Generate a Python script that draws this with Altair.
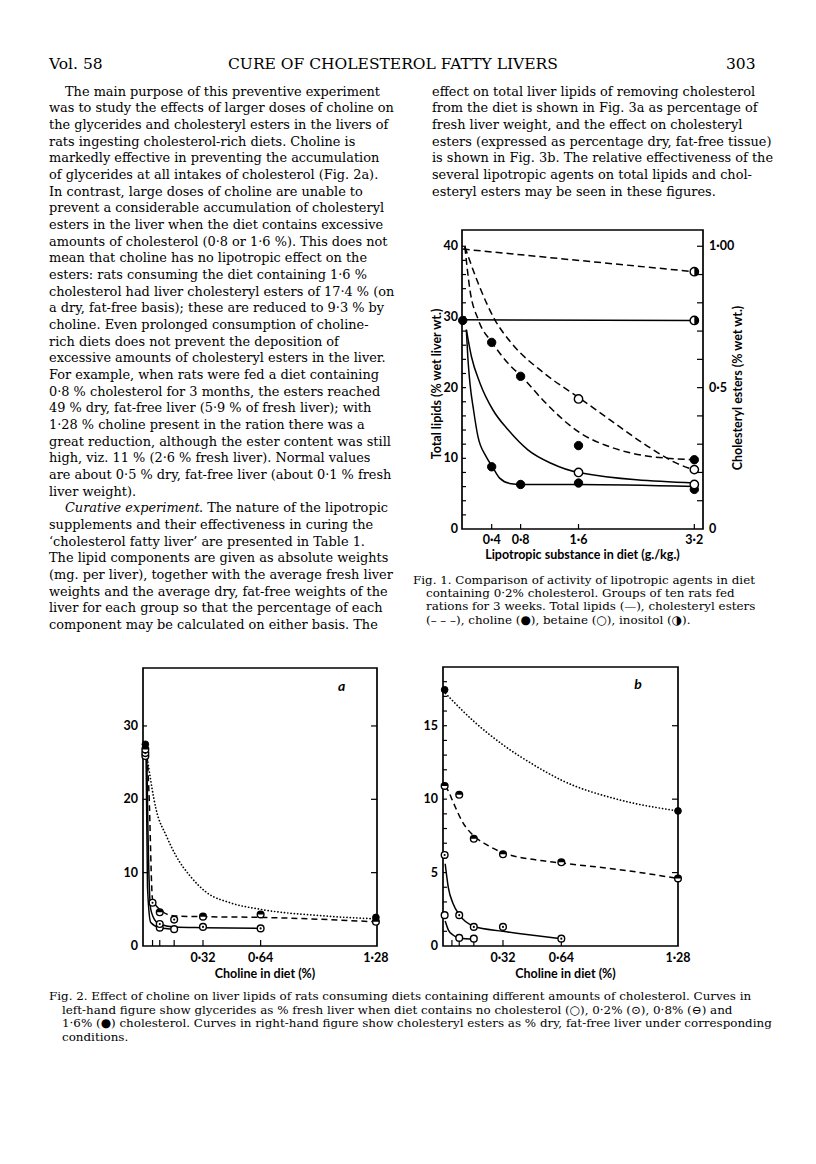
import altair as alt
import pandas as pd

# ============================ page text ============================
HEADER_TEXT = ["Vol. 58", "CURE OF CHOLESTEROL FATTY LIVERS", "303"]

LEFT_LINES = [
    "The main purpose of this preventive experiment",
    "was to study the effects of larger doses of choline on",
    "the glycerides and cholesteryl esters in the livers of",
    "rats ingesting cholesterol-rich diets. Choline is",
    "markedly effective in preventing the accumulation",
    "of glycerides at all intakes of cholesterol (Fig. 2a).",
    "In contrast, large doses of choline are unable to",
    "prevent a considerable accumulation of cholesteryl",
    "esters in the liver when the diet contains excessive",
    "amounts of cholesterol (0·8 or 1·6 %). This does not",
    "mean that choline has no lipotropic effect on the",
    "esters: rats consuming the diet containing 1·6 %",
    "cholesterol had liver cholesteryl esters of 17·4 % (on",
    "a dry, fat-free basis); these are reduced to 9·3 % by",
    "choline. Even prolonged consumption of choline-",
    "rich diets does not prevent the deposition of",
    "excessive amounts of cholesteryl esters in the liver.",
    "For example, when rats were fed a diet containing",
    "0·8 % cholesterol for 3 months, the esters reached",
    "49 % dry, fat-free liver (5·9 % of fresh liver); with",
    "1·28 % choline present in the ration there was a",
    "great reduction, although the ester content was still",
    "high, viz. 11 % (2·6 % fresh liver). Normal values",
    "are about 0·5 % dry, fat-free liver (about 0·1 % fresh",
    "liver weight).",
    ". The nature of the lipotropic",
    "supplements and their effectiveness in curing the",
    "\u2018cholesterol fatty liver\u2019 are presented in Table 1.",
    "The lipid components are given as absolute weights",
    "(mg. per liver), together with the average fresh liver",
    "weights and the average dry, fat-free weights of the",
    "liver for each group so that the percentage of each",
    "component may be calculated on either basis. The",
]
ITALIC_LEAD = "Curative experiment"

RIGHT_LINES = [
    "effect on total liver lipids of removing cholesterol",
    "from the diet is shown in Fig. 3a as percentage of",
    "fresh liver weight, and the effect on cholesteryl",
    "esters (expressed as percentage dry, fat-free tissue)",
    "is shown in Fig. 3b. The relative effectiveness of the",
    "several lipotropic agents on total lipids and chol-",
    "esteryl esters may be seen in these figures.",
]

FIG1_CAPTION = [
    "Fig. 1. Comparison of activity of lipotropic agents in diet",
    "containing 0·2% cholesterol. Groups of ten rats fed",
    "rations for 3 weeks. Total lipids (\u2014), cholesteryl esters",
    "(\u2013 \u2013 \u2013), choline (\u25cf), betaine (\u25cb), inositol (\u25d1).",
]

FIG2_CAPTION = [
    "Fig. 2. Effect of choline on liver lipids of rats consuming diets containing different amounts of cholesterol. Curves in",
    "left-hand figure show glycerides as % fresh liver when diet contains no cholesterol (\u25cb), 0·2% (\u2299), 0·8% (\u2296) and",
    "1·6% (\u25cf) cholesterol. Curves in right-hand figure show cholesteryl esters as % dry, fat-free liver under corresponding",
    "conditions.",
]

# ============================ Fig. 1 data ============================
F1_XTICKS = [0.4, 0.8, 1.6, 3.2]
F1_XTICK_LABELS = ["0·4", "0·8", "1·6", "3·2"]
F1_YTICKS = [0, 10, 20, 30, 40]
F1_YTICK_LABELS = ["0", "10", "20", "30", "40"]
F1_RIGHT_TICK_VALUES = [0, 20, 40]
F1_RIGHT_TICK_LABELS = ["0", "0·5", "1·00"]
F1_XTITLE = "Lipotropic substance in diet (g./kg.)"
F1_YTITLE = "Total lipids (% wet liver wt.)"
F1_Y2TITLE = "Cholesteryl esters (% wet wt.)"

# total lipids (% wet liver wt.)
F1_LIP_CONTROL_X = [0.0]
F1_LIP_CONTROL_Y = [29.5]
F1_LIP_CHOLINE_X = [0.4, 0.8, 1.6, 3.2]
F1_LIP_CHOLINE_Y = [8.8, 6.3, 6.5, 5.6]
F1_LIP_BETAINE_X = [1.6, 3.2]
F1_LIP_BETAINE_Y = [8.0, 6.3]
F1_LIP_INOSITOL_X = [3.2]
F1_LIP_INOSITOL_Y = [29.5]
# cholesteryl esters (% wet wt.)
F1_EST_CHOLINE_X = [0.4, 0.8, 1.6, 3.2]
F1_EST_CHOLINE_Y = [0.66, 0.54, 0.295, 0.245]
F1_EST_BETAINE_X = [1.6, 3.2]
F1_EST_BETAINE_Y = [0.46, 0.21]
F1_EST_INOSITOL_X = [3.2]
F1_EST_INOSITOL_Y = [0.91]

# drawn curves
F1C_LIP_CHOLINE_X = [0.05, 0.07, 0.1, 0.15, 0.21, 0.32, 0.41, 0.51, 0.67, 0.8, 1.6, 3.2]
F1C_LIP_CHOLINE_Y = [28.2, 24.4, 20.6, 16.8, 13.1, 10.3, 8.8, 7.2, 6.4, 6.3, 6.3, 6.0]
F1C_LIP_BETAINE_X = [0.05, 0.12, 0.24, 0.42, 0.63, 0.9, 1.22, 1.6, 3.2]
F1C_LIP_BETAINE_Y = [28.2, 24.4, 20.6, 16.8, 14.0, 11.2, 9.3, 8.0, 6.5]
F1C_LIP_INOSITOL_X = [0.0, 3.2]
F1C_LIP_INOSITOL_Y = [29.6, 29.5]
F1C_EST_INOSITOL_X = [0.0, 3.2]
F1C_EST_INOSITOL_Y = [0.99, 0.91]
F1C_EST_BETAINE_X = [0.03, 0.215, 0.444, 0.672, 1.13, 1.62, 2.04, 2.5, 2.96, 3.21]
F1C_EST_BETAINE_Y = [0.998, 0.868, 0.74, 0.658, 0.55, 0.462, 0.385, 0.302, 0.232, 0.208]
F1C_EST_CHOLINE_X = [0.03, 0.1, 0.215, 0.41, 0.63, 0.82, 1.13, 1.62, 2.04, 2.5, 3.21]
F1C_EST_CHOLINE_Y = [0.998, 0.845, 0.74, 0.658, 0.585, 0.538, 0.45, 0.34, 0.29, 0.26, 0.245]

# ============================ Fig. 2a data (glycerides, % fresh liver) ============================
F2_XTICKS = [0.04, 0.08, 0.16, 0.32, 0.64]
F2_XLABEL_VALUES = [0.32, 0.64, 1.28]
F2_XLABELS = ["0·32", "0·64", "1·28"]
F2_XTITLE = "Choline in diet (%)"
F2A_YTICKS = [0, 10, 20, 30]
F2A_YLABELS = ["0", "10", "20", "30"]

F2A_C16_X = [0.0, 1.28]
F2A_C16_Y = [27.5, 3.9]
F2A_C08_X = [0.0, 0.08, 0.32, 0.64, 1.28]
F2A_C08_Y = [26.8, 4.6, 4.0, 4.3, 3.3]
F2A_C02_X = [0.0, 0.04, 0.08, 0.16, 0.32, 0.64]
F2A_C02_Y = [26.3, 5.9, 3.0, 3.6, 2.6, 2.4]
F2A_C00_X = [0.0, 0.08, 0.16]
F2A_C00_Y = [25.9, 2.5, 2.3]

F2AC_C16_X = [0.006, 0.06, 0.117, 0.17, 0.25, 0.34, 0.47, 0.64, 0.99, 1.28]
F2AC_C16_Y = [26.4, 18.6, 15.0, 12.3, 9.5, 7.3, 5.9, 5.0, 4.1, 3.7]
F2AC_C08_X = [0.01, 0.02, 0.04, 0.09, 0.16, 0.32, 0.64, 1.28]
F2AC_C08_Y = [26.0, 21.0, 6.4, 4.8, 4.1, 4.0, 3.9, 3.3]
F2AC_C02_X = [0.008, 0.015, 0.03, 0.06, 0.08, 0.16, 0.32, 0.64]
F2AC_C02_Y = [26.0, 15.0, 5.0, 3.3, 3.0, 2.6, 2.5, 2.4]
F2AC_C00_X = [0.004, 0.012, 0.03, 0.08, 0.16]
F2AC_C00_Y = [26.0, 8.0, 3.2, 2.5, 2.3]

# ============================ Fig. 2b data (cholesteryl esters, % dry fat-free liver) ============================
F2B_YTICKS = [0, 5, 10, 15]
F2B_YLABELS = ["0", "5", "10", "15"]

F2B_C16_X = [0.0, 1.28]
F2B_C16_Y = [17.45, 9.2]
F2B_C08_X = [0.0, 0.08, 0.16, 0.32, 0.64, 1.28]
F2B_C08_Y = [10.9, 10.3, 7.3, 6.25, 5.7, 4.6]
F2B_C02_X = [0.0, 0.08, 0.16, 0.32, 0.64]
F2B_C02_Y = [6.2, 2.1, 1.3, 1.3, 0.5]
F2B_C00_X = [0.0, 0.08, 0.16]
F2B_C00_Y = [2.1, 0.55, 0.5]

F2BC_C16_X = [0.005, 0.16, 0.32, 0.48, 0.64, 0.96, 1.28]
F2BC_C16_Y = [17.2, 15.3, 13.7, 12.4, 11.3, 9.95, 9.2]
F2BC_C08_X = [0.003, 0.018, 0.05, 0.1, 0.16, 0.23, 0.32, 0.48, 0.64, 0.96, 1.28]
F2BC_C08_Y = [10.9, 10.6, 9.7, 8.4, 7.5, 6.9, 6.35, 5.9, 5.65, 5.2, 4.6]
F2BC_C02_X = [0.003, 0.02, 0.046, 0.082, 0.16, 0.32, 0.64]
F2BC_C02_Y = [5.6, 4.0, 2.9, 2.1, 1.35, 1.0, 0.5]
F2BC_C00_X = [0.003, 0.02, 0.046, 0.082, 0.16]
F2BC_C00_Y = [1.7, 1.1, 0.75, 0.52, 0.46]

# ============================ styling / layout ============================
SERIF = "DejaVu Serif"
SANS = "Lato"
M = 8  # page margin
BODY_FS = 12.9
CAP_FS = 11.9
HEAD_FS = 15.5

HALF_TOP = "M -1 0 A 1 1 0 0 1 1 0 Z"
HALF_RIGHT = "M 0 -1 A 1 1 0 0 1 0 1 Z"

# ---------------------------- text block ----------------------------
rows = []


def add(txt, px, py, fs, kind):
    rows.append({"txt": txt, "x": px - M, "y": py - M, "fs": fs, "kind": kind})


add(HEADER_TEXT[0], 49, 66, HEAD_FS, "head")
add(HEADER_TEXT[1], 228, 66, HEAD_FS, "head")
add(HEADER_TEXT[2], 726, 66, HEAD_FS, "head")

LINE0, LSTEP = 92.5, 16.67
for i, t in enumerate(LEFT_LINES):
    y = LINE0 + LSTEP * i
    if i == 25:
        add(ITALIC_LEAD, 65, y, BODY_FS, "ital")
        add(t, 65 + 134, y, BODY_FS, "body")
    else:
        add(t, 65 if i == 0 else 49, y, BODY_FS, "body")
for i, t in enumerate(RIGHT_LINES):
    add(t, 432, LINE0 + LSTEP * i, BODY_FS, "body")
for i, t in enumerate(FIG1_CAPTION):
    add(t, 413 if i == 0 else 426, 580.7 + 13.3 * i, CAP_FS, "body")
for i, t in enumerate(FIG2_CAPTION):
    add(t, 49 if i == 0 else 62, 997 + 13.6 * i, CAP_FS, "body")

text_df = pd.DataFrame(rows)


def text_layer(kind, font, style=None):
    kw = dict(font=font, align="left", baseline="alphabetic", color="black")
    if style:
        kw["fontStyle"] = style
    return (
        alt.Chart(text_df)
        .transform_filter(alt.datum.kind == kind)
        .mark_text(**kw)
        .encode(
            x=alt.X("x:Q", scale=None, axis=None),
            y=alt.Y("y:Q", scale=None, axis=None),
            text="txt:N",
            size=alt.Size("fs:Q", scale=None, legend=None),
        )
    )


text_chart = alt.layer(
    text_layer("body", SERIF),
    text_layer("ital", SERIF, "italic"),
    text_layer("head", SERIF),
).properties(width=135, height=1045)


# ---------------------------- helpers ----------------------------
def xy_df(xs, ys, series="s"):
    return pd.DataFrame({"x": xs, "y": ys, "series": series})


def curve(df, xs, ys, dash=None, dotted=False, width=1.5):
    kw = dict(interpolate="monotone", color="black", strokeWidth=width)
    if dotted:
        kw.update(strokeDash=[0.1, 3.2], strokeCap="round", strokeWidth=1.7)
    elif dash:
        kw["strokeDash"] = dash
    return alt.Chart(df).mark_line(**kw).encode(
        x=alt.X("x:Q", scale=xs, axis=None),
        y=alt.Y("y:Q", scale=ys, axis=None),
        detail="series:N",
    )


def markers(df, kind, xs, ys, size):
    enc = dict(x=alt.X("x:Q", scale=xs, axis=None), y=alt.Y("y:Q", scale=ys, axis=None))
    if kind == "filled":
        return alt.Chart(df).mark_point(shape="circle", filled=True, fill="black",
                                        stroke="black", strokeWidth=1, size=size, opacity=1).encode(**enc)
    base = alt.Chart(df).mark_point(shape="circle", filled=True, fill="white",
                                    stroke="black", strokeWidth=1.4, size=size, opacity=1).encode(**enc)
    if kind == "open":
        return base
    if kind == "dot":
        inner = alt.Chart(df).mark_point(shape="circle", filled=True, fill="black",
                                         size=size * 0.1, opacity=1).encode(**enc)
        return alt.layer(base, inner)
    path = HALF_TOP if kind == "halftop" else HALF_RIGHT
    inner = alt.Chart(df).mark_point(shape=path, filled=True, fill="black",
                                     strokeWidth=0, size=size, opacity=1).encode(**enc)
    return alt.layer(base, inner)


def hticks(values, ys, x0, x1):
    return alt.Chart(pd.DataFrame({"v": values})).mark_rule(color="black", strokeWidth=1.2).encode(
        y=alt.Y("v:Q", scale=ys, axis=None), x=alt.value(x0), x2=alt.value(x1))


def vticks(values, xs, y0, y1):
    return alt.Chart(pd.DataFrame({"v": values})).mark_rule(color="black", strokeWidth=1.2).encode(
        x=alt.X("v:Q", scale=xs, axis=None), y=alt.value(y0), y2=alt.value(y1))


def ylabels(values, labels, ys, px, align="right"):
    return alt.Chart(pd.DataFrame({"v": values, "lab": labels})).mark_text(
        align=align, baseline="middle", font=SANS, fontSize=12.5, fontWeight="bold", color="black"
    ).encode(y=alt.Y("v:Q", scale=ys, axis=None), x=alt.value(px), text="lab:N")


def xlabels(values, labels, xs, py):
    return alt.Chart(pd.DataFrame({"v": values, "lab": labels})).mark_text(
        align="center", baseline="middle", font=SANS, fontSize=12.5, fontWeight="bold", color="black"
    ).encode(x=alt.X("v:Q", scale=xs, axis=None), y=alt.value(py), text="lab:N")


def title(txt, px, py, angle=0):
    kw = dict(align="center", baseline="middle", font=SANS, fontSize=12.5, fontWeight="bold", color="black")
    if angle:
        kw["angle"] = angle
    return alt.Chart(pd.DataFrame({"t": [txt]})).mark_text(**kw).encode(
        x=alt.value(px), y=alt.value(py), text="t:N")


def frame(xdom, ydom, xs, ys):
    df = pd.DataFrame({"x": [xdom[0]], "x2": [xdom[1]], "y": [ydom[0]], "y2": [ydom[1]]})
    return alt.Chart(df).mark_rect(fillOpacity=0, stroke="black", strokeWidth=1.7).encode(
        x=alt.X("x:Q", scale=xs, axis=None), x2="x2:Q",
        y=alt.Y("y:Q", scale=ys, axis=None), y2="y2:Q")


# ---------------------------- Fig. 1 ----------------------------
W1, H1, TOP1 = 241, 518, 219
X1DOM, Y1DOM = [-0.01, 3.32], [0, 42.3]
xs1 = alt.Scale(domain=X1DOM, range=[0, W1], nice=False, zero=False)
ys1 = alt.Scale(domain=Y1DOM, range=[H1, TOP1], nice=False, zero=False)


def est_df(xs, ys, series):
    return pd.DataFrame({"x": xs, "y": [v * 40 for v in ys], "series": series})


f1_solid = pd.concat([
    xy_df(F1C_LIP_CHOLINE_X, F1C_LIP_CHOLINE_Y, "choline"),
    xy_df(F1C_LIP_BETAINE_X, F1C_LIP_BETAINE_Y, "betaine"),
    xy_df(F1C_LIP_INOSITOL_X, F1C_LIP_INOSITOL_Y, "inositol"),
])
f1_dashed = pd.concat([
    est_df(F1C_EST_CHOLINE_X, F1C_EST_CHOLINE_Y, "choline"),
    est_df(F1C_EST_BETAINE_X, F1C_EST_BETAINE_Y, "betaine"),
    est_df(F1C_EST_INOSITOL_X, F1C_EST_INOSITOL_Y, "inositol"),
])
f1_filled = pd.concat([
    xy_df(F1_LIP_CONTROL_X, F1_LIP_CONTROL_Y),
    xy_df(F1_LIP_CHOLINE_X, F1_LIP_CHOLINE_Y),
    est_df(F1_EST_CHOLINE_X, F1_EST_CHOLINE_Y, "s"),
])
f1_open = pd.concat([
    xy_df(F1_LIP_BETAINE_X, F1_LIP_BETAINE_Y),
    est_df(F1_EST_BETAINE_X, F1_EST_BETAINE_Y, "s"),
])
f1_half = pd.concat([
    xy_df(F1_LIP_INOSITOL_X, F1_LIP_INOSITOL_Y),
    est_df(F1_EST_INOSITOL_X, F1_EST_INOSITOL_Y, "s"),
])

fig1 = alt.layer(
    frame(X1DOM, Y1DOM, xs1, ys1),
    hticks(list(range(2, 42, 2)), ys1, 0, 4),
    hticks(list(range(4, 44, 4)), ys1, W1 - 6, W1),
    vticks(F1_XTICKS, xs1, H1 - 5, H1),
    curve(f1_solid, xs1, ys1),
    curve(f1_dashed, xs1, ys1, dash=[7, 4]),
    markers(f1_filled, "filled", xs1, ys1, 70),
    markers(f1_open, "open", xs1, ys1, 70),
    markers(f1_half, "halfright", xs1, ys1, 70),
    ylabels(F1_YTICKS, F1_YTICK_LABELS, ys1, -4),
    ylabels(F1_RIGHT_TICK_VALUES, F1_RIGHT_TICK_LABELS, ys1, W1 + 6, align="left"),
    xlabels(F1_XTICKS, F1_XTICK_LABELS, xs1, H1 + 11),
    title(F1_XTITLE, W1 / 2, H1 + 26),
    title(F1_YTITLE, -25, 373, angle=270),
    title(F1_Y2TITLE, W1 + 35, 377, angle=270),
).properties(width=W1, height=H1)

# ---------------------------- Fig. 2 panels ----------------------------
H2 = 935
MS2 = 45


def panel(W, xdom, ydom, ytop, yticks, ylabs, minor, right_ticks, pts, crv, letter, letter_xy):
    xs = alt.Scale(domain=xdom, range=[0, W], nice=False, zero=False)
    ys = alt.Scale(domain=ydom, range=[H2, ytop], nice=False, zero=False)
    c16, c08, c02, c00 = crv
    p16, p08, p02, p00 = pts
    lab = alt.Chart(pd.DataFrame({"x": [letter_xy[0]], "y": [letter_xy[1]], "t": [letter]})).mark_text(
        font=SANS, fontSize=14, fontWeight="bold", fontStyle="italic", color="black"
    ).encode(x=alt.X("x:Q", scale=xs, axis=None), y=alt.Y("y:Q", scale=ys, axis=None), text="t:N")
    return alt.layer(
        frame(xdom, ydom, xs, ys),
        hticks(minor, ys, 0, 4),
        hticks(right_ticks, ys, W - 6, W),
        vticks(F2_XTICKS, xs, H2 - 6, H2),
        curve(c16, xs, ys, dotted=True),
        curve(c08, xs, ys, dash=[6, 4]),
        curve(c02, xs, ys),
        curve(c00, xs, ys),
        markers(p00, "open", xs, ys, MS2),
        markers(p02, "dot", xs, ys, MS2),
        markers(p08, "halftop", xs, ys, MS2),
        markers(p16, "filled", xs, ys, MS2),
        lab,
        ylabels(yticks, ylabs, ys, -5),
        xlabels(F2_XLABEL_VALUES, F2_XLABELS, xs, H2 + 12),
        title(F2_XTITLE, W / 2 + 5, H2 + 28),
    ).properties(width=W, height=H2)


fig2a = panel(
    234, [-0.013, 1.286], [0, 37.9], 657, F2A_YTICKS, F2A_YLABELS, [10, 20, 30], [10, 20, 30],
    [xy_df(F2A_C16_X, F2A_C16_Y), xy_df(F2A_C08_X, F2A_C08_Y),
     xy_df(F2A_C02_X, F2A_C02_Y), xy_df(F2A_C00_X, F2A_C00_Y)],
    [xy_df(F2AC_C16_X, F2AC_C16_Y), xy_df(F2AC_C08_X, F2AC_C08_Y),
     xy_df(F2AC_C02_X, F2AC_C02_Y), xy_df(F2AC_C00_X, F2AC_C00_Y)],
    "a", (1.09, 35.3),
)

spacer = alt.Chart(pd.DataFrame({"v": [0]})).mark_point(opacity=0).encode(
    x=alt.value(0), y=alt.value(0)).properties(width=66, height=10)

fig2b = alt.layer(panel(
    235, [-0.009, 1.28], [0, 19.0], 656, F2B_YTICKS, F2B_YLABELS, list(range(1, 19)), [5, 10, 15],
    [xy_df(F2B_C16_X, F2B_C16_Y), xy_df(F2B_C08_X, F2B_C08_Y),
     xy_df(F2B_C02_X, F2B_C02_Y), xy_df(F2B_C00_X, F2B_C00_Y)],
    [xy_df(F2BC_C16_X, F2BC_C16_Y), xy_df(F2BC_C08_X, F2BC_C08_Y),
     xy_df(F2BC_C02_X, F2BC_C02_Y), xy_df(F2BC_C00_X, F2BC_C00_Y)],
    "b", (1.06, 17.8),
)).properties(width=19, height=H2)

chart = alt.hconcat(
    text_chart, fig2a, spacer, fig2b, fig1,
    spacing=0, bounds="flush", padding=0, background="white",
).configure_view(stroke=None)

chart.save("out.html", embed_options={"renderer": "svg", "actions": False})
